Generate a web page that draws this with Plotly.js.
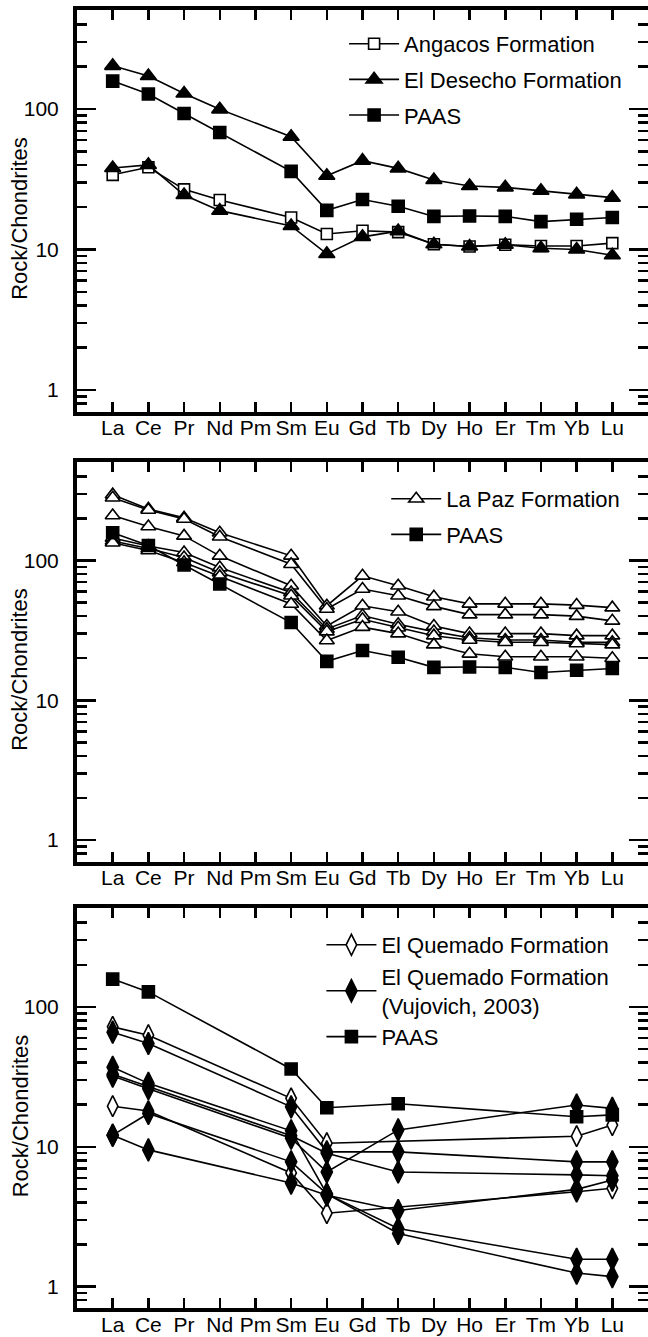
<!DOCTYPE html>
<html>
<head>
<meta charset="utf-8">
<script src="https://cdn.plot.ly/plotly-3.0.1.min.js"></script>
<style>html,body{margin:0;padding:0;background:#fff;}#chart{width:648px;height:1337px;}</style>
</head>
<body>
<div id="chart"></div>
<script>
// ---- data ----
var elements = ['La','Ce','Pr','Nd','Pm','Sm','Eu','Gd','Tb','Dy','Ho','Er','Tm','Yb','Lu'];
var ree14 = ['La','Ce','Pr','Nd','Sm','Eu','Gd','Tb','Dy','Ho','Er','Tm','Yb','Lu'];
var paas = [158,128,93,68,36,19,22.7,20.3,17.2,17.3,17.2,15.8,16.4,16.9];

// panel 1
var angacos = [
  [34,38.5,26.8,22.5,16.9,12.9,13.6,13.3,10.9,10.5,10.8,10.6,10.6,11.1]
];
var elDesecho = [
  [203,172,129,99.5,63.5,33.5,42.9,37.8,31.2,28.3,27.7,26.2,24.7,23.4],
  [38,40,24.4,18.9,14.7,9.3,12.3,13.5,10.9,10.5,10.8,10.2,10.0,9.1]
];

// panel 2
var laPaz = [
  [296,234,202,158,108,47.5,77.7,66,55,49,49,49,48,46],
  [281,230,198,148,94,45,62.5,56,47,41,41,41,40,37],
  [210,175,150,108,66,34,47.5,43,34,30,30,30,29,29],
  [145,127,114,89,59,32.4,40.4,35,31,28,27,27,26,26],
  [138,122,105,82,56,31,38,33,29,27,26,26,25.5,25],
  [134,118,97,77,48.9,26.8,33.4,30,25,21.5,20.5,20.5,20.5,20]
];

// panel 3
var elemPaas3 = ['La','Ce','Sm','Eu','Tb','Yb','Lu'];
var paas3 = [158,128,36,19,20.3,16.4,16.9];
var elemQuemado = ['La','Ce','Sm','Eu','Yb','Lu'];
var quemado = [
  [72,62.8,22.2,10.6,11.9,14.3],
  [19.5,18,6.5,3.35,4.77,5.05]
];
var elemVujovich = ['La','Ce','Sm','Eu','Tb','Yb','Lu'];
var vujovich = [
  [66,54.8,19.3,9.2,9.2,7.8,7.8],
  [37,28.4,13,4.6,2.6,1.57,1.57],
  [32,26,11.5,6.6,13.2,19.9,18.8],
  [12.1,17.3,7.8,4.6,2.4,1.25,1.18],
  [12.1,9.5,5.5,4.5,3.5,4.96,5.78],
  [33,27,12,9,6.6,6.3,6.2]
];

var yTickVals = [1,10,100];
var yTickText = ['1','10','100'];
var yMinorVals = [0.7,0.8,0.9,2,3,4,5,6,7,8,9,20,30,40,50,60,70,80,90,200,300,400,500];
var yTitle = 'Rock/Chondrites';

var legendNames = {
  angacos: 'Angacos Formation',
  desecho: 'El Desecho Formation',
  paas: 'PAAS',
  lapaz: 'La Paz Formation',
  quemado: 'El Quemado Formation',
  vujovich: 'El Quemado Formation<br>(Vujovich, 2003)'
};

// ---- helpers ----
function idx(list){ return list.map(function(e){ return elements.indexOf(e); }); }

var FONT = 'Liberation Sans, Arial, Helvetica, sans-serif';
var traces = [];
function addSeries(xs, ys, axisN, name, group, symbol, fill, size, show){
  traces.push({
    type:'scatter', mode:'lines+markers',
    x: idx(xs), y: ys,
    xaxis: axisN===1?'x':'x'+axisN, yaxis: axisN===1?'y':'y'+axisN,
    name: name, legendgroup: group+axisN, showlegend: show,
    legend: axisN===1?'legend':'legend'+axisN,
    line:{color:'#000', width:1.6},
    marker:{symbol:symbol, size:size, color:fill, line:{color:'#000', width:1.6}},
    hoverinfo:'x+y+name'
  });
}

// panel 1
angacos.forEach(function(s,i){ addSeries(ree14, s, 1, legendNames.angacos, 'ang', 'square', '#fff', 11, i===0); });
elDesecho.forEach(function(s,i){ addSeries(ree14, s, 1, legendNames.desecho, 'des', 'triangle-up', '#000', 14, i===0); });
addSeries(ree14, paas, 1, legendNames.paas, 'paas', 'square', '#000', 12, true);

// panel 2
laPaz.forEach(function(s,i){ addSeries(ree14, s, 2, legendNames.lapaz, 'lp', 'triangle-up', '#fff', 13, i===0); });
addSeries(ree14, paas, 2, legendNames.paas, 'paas', 'square', '#000', 12, true);

// panel 3
quemado.forEach(function(s,i){ addSeries(elemQuemado, s, 3, legendNames.quemado, 'q', 'diamond-tall', '#fff', 15, i===0); });
vujovich.forEach(function(s,i){ addSeries(elemVujovich, s, 3, legendNames.vujovich, 'v', 'diamond-tall', '#000', 16, i===0); });
addSeries(elemPaas3, paas3, 3, legendNames.paas, 'paas', 'square', '#000', 12, true);

var H = 1337, W = 648;
function ydom(top, bottom){ return [1-bottom/H, 1-top/H]; }

function xAxis(anchor){
  return {
    anchor: anchor, domain:[77/W, 1], range:[-1,15],
    tickmode:'array', tickvals: idx(elements), ticktext: elements,
    ticks:'inside', ticklen:10, tickwidth:2.5, tickcolor:'#000',
    showline:true, linewidth:4, linecolor:'#000', mirror:'ticks',
    showgrid:false, zeroline:false,
    tickfont:{family:FONT, size:21, color:'#000'}, ticklabelstandoff:-6
  };
}
function yAxis(anchor, dom){
  return {
    anchor: anchor, domain: dom, type:'log', range:[Math.log10(0.7), 2.705],
    tickmode:'array', tickvals: yTickVals, ticktext: yTickText,
    ticks:'inside', ticklen:19, tickwidth:2.5, tickcolor:'#000',
    minor:{tickmode:'array', tickvals: yMinorVals, ticks:'inside', ticklen:10, tickwidth:2.5, tickcolor:'#000', showgrid:false},
    showline:true, linewidth:4, linecolor:'#000', mirror:'ticks',
    showgrid:false, zeroline:false,
    tickfont:{family:FONT, size:21, color:'#000'}, ticklabelstandoff:10
  };
}
function legend(x, ytop, gap){
  return {
    x:x, xanchor:'left', y:1-ytop/H, yanchor:'top',
    font:{family:FONT, size:22, color:'#000'}, bgcolor:'rgba(0,0,0,0)',
    traceorder:'grouped', tracegroupgap:gap, itemwidth:50
  };
}
function yTitleAnn(yref){
  return {
    text: yTitle, xref:'paper', x:20/W, xanchor:'center',
    yref: yref, y:0.5, yanchor:'middle', yshift:-8,
    textangle:-90, showarrow:false,
    font:{family:FONT, size:22, color:'#000'}
  };
}

var layout = {
  width:W, height:H, margin:{l:0,r:0,t:0,b:0},
  paper_bgcolor:'#fff', plot_bgcolor:'#fff', showlegend:true,
  xaxis: xAxis('y'), yaxis: yAxis('x', ydom(10, 411.7)),
  xaxis2: xAxis('y2'), yaxis2: yAxis('x2', ydom(462, 861.7)),
  xaxis3: xAxis('y3'), yaxis3: yAxis('x3', ydom(908.3, 1308.3)),
  legend: legend(0.531, 23, 4),
  legend2: legend(0.596, 478, 4),
  legend3: legend(0.496, 924, 0),
  annotations: [yTitleAnn('y domain'), yTitleAnn('y2 domain'), yTitleAnn('y3 domain')]
};

Plotly.newPlot('chart', traces, layout, {staticPlot:true, displayModeBar:false});
</script>
</body>
</html>
